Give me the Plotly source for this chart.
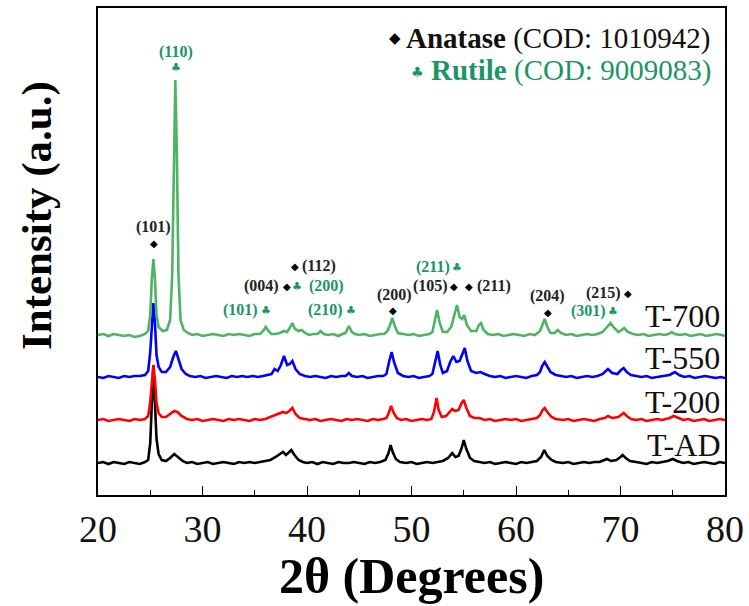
import plotly.graph_objects as go

# ---- data (2theta, relative intensity) ----
T_AD = [(20.0,0),(20.5,1),(21.0,-1),(21.5,1),(22.0,0),(22.5,-1),(23.0,1),(23.5,0),(24.0,-1),(24.5,1),(24.8,3),(25.0,20),(25.15,62),(25.3,98),(25.45,60),(25.6,24),(25.8,9),(26.1,3),(26.5,2),(26.9,5),(27.3,9),(27.7,5),(28.1,2),(28.5,0),(29.0,1),(29.5,-1),(30.0,0),(30.5,1),(31.0,-1),(31.5,0),(32.0,1),(32.5,0),(33.0,-1),(33.5,1),(34.0,0),(34.5,1),(35.0,0),(35.5,1),(36.0,2),(36.5,3),(37.0,6),(37.4,9),(37.7,11),(38.0,8),(38.3,11),(38.5,13),(38.8,8),(39.2,3),(39.6,1),(40.0,0),(40.5,1),(41.0,-1),(41.5,1),(42.0,0),(42.5,-1),(43.0,1),(43.5,0),(44.0,0),(44.5,1),(45.0,0),(45.5,-1),(46.0,1),(46.5,0),(47.0,1),(47.5,3),(47.8,10),(48.0,18),(48.2,11),(48.5,4),(48.9,1),(49.5,0),(50.0,1),(50.5,-1),(51.0,0),(51.5,1),(52.0,0),(52.5,1),(53.0,2),(53.5,5),(53.9,10),(54.2,6),(54.5,7),(54.8,15),(55.0,23),(55.25,14),(55.6,5),(56.0,2),(56.5,1),(57.0,0),(57.5,1),(58.0,-1),(58.5,0),(59.0,1),(59.5,0),(60.0,-1),(60.5,1),(61.0,0),(61.5,1),(62.0,2),(62.4,6),(62.7,13),(63.0,7),(63.4,3),(63.8,1),(64.5,0),(65.0,1),(65.5,-1),(66.0,0),(66.5,1),(67.0,0),(67.5,1),(68.0,1),(68.4,3),(68.7,4),(69.1,2),(69.6,3),(70.0,6),(70.2,8),(70.5,5),(70.9,2),(71.5,1),(72.0,0),(72.5,-1),(73.0,1),(73.5,0),(74.0,1),(74.5,2),(75.0,4),(75.4,2),(76.0,0),(76.5,1),(77.0,-1),(77.5,0),(78.0,1),(78.5,0),(79.0,-1),(79.5,1),(80.0,0)]

T_200 = [(20.0,0),(20.5,1),(21.0,-1),(21.5,0),(22.0,1),(22.5,0),(23.0,-1),(23.5,1),(24.0,0),(24.5,1),(24.8,4),(25.0,18),(25.15,42),(25.3,55),(25.45,40),(25.6,17),(25.8,7),(26.1,3),(26.5,3),(26.9,6),(27.3,9),(27.6,8),(28.0,4),(28.5,1),(29.0,0),(29.5,1),(30.0,-1),(30.5,0),(31.0,1),(31.5,0),(32.0,-1),(32.5,1),(33.0,0),(33.5,1),(34.0,0),(34.5,-1),(35.0,1),(35.5,0),(36.0,1),(36.5,3),(37.0,5),(37.4,7),(37.7,8),(38.0,7),(38.3,9),(38.6,12),(38.9,6),(39.3,2),(39.8,1),(40.3,0),(40.8,1),(41.3,-1),(41.8,0),(42.3,1),(42.8,0),(43.3,-1),(43.8,1),(44.3,0),(44.8,1),(45.3,0),(45.8,-1),(46.3,1),(46.8,0),(47.3,1),(47.6,2),(47.85,8),(48.05,14),(48.3,7),(48.6,2),(49.0,0),(49.5,1),(50.0,-1),(50.5,0),(51.0,1),(51.5,0),(51.9,1),(52.15,8),(52.4,22),(52.6,10),(52.9,3),(53.3,4),(53.7,9),(53.9,11),(54.2,9),(54.5,10),(54.8,17),(55.0,20),(55.25,12),(55.6,4),(56.0,2),(56.5,2),(57.0,0),(57.5,1),(58.0,-1),(58.5,0),(59.0,1),(59.5,0),(60.0,1),(60.5,-1),(61.0,0),(61.5,1),(62.0,2),(62.3,5),(62.55,10),(62.75,12),(63.0,8),(63.4,3),(63.8,1),(64.5,0),(65.0,1),(65.5,-1),(66.0,0),(66.5,1),(67.0,0),(67.5,-1),(68.0,1),(68.5,2),(68.8,4),(69.2,2),(69.8,3),(70.1,6),(70.3,7),(70.6,4),(71.0,1),(71.5,0),(72.0,1),(72.5,-1),(73.0,0),(73.5,1),(74.0,0),(74.7,2),(75.1,4),(75.5,2),(76.0,0),(76.5,1),(77.0,-1),(77.5,0),(78.0,1),(78.5,-1),(79.0,0),(79.5,1),(80.0,0)]

T_550 = [(20.0,0),(20.5,-1),(21.0,1),(21.5,0),(22.0,-1),(22.5,1),(23.0,0),(23.5,1),(24.0,1),(24.5,2),(24.8,6),(25.0,25),(25.15,57),(25.3,74),(25.45,54),(25.6,22),(25.8,10),(26.1,5),(26.5,5),(26.9,10),(27.2,20),(27.45,26),(27.7,18),(28.0,8),(28.4,3),(28.8,1),(29.3,0),(29.8,1),(30.3,-1),(30.8,0),(31.3,1),(31.8,0),(32.3,-1),(32.8,1),(33.3,0),(33.8,1),(34.3,0),(34.8,1),(35.3,0),(35.8,1),(36.3,2),(36.6,3),(36.9,8),(37.2,6),(37.5,12),(37.8,21),(38.1,12),(38.35,13),(38.6,16),(38.9,8),(39.3,3),(39.8,1),(40.3,0),(40.8,1),(41.3,0),(41.8,-1),(42.3,1),(42.8,0),(43.3,1),(43.7,1),(44.0,4),(44.3,1),(44.8,0),(45.3,1),(45.8,-1),(46.3,0),(46.8,1),(47.3,1),(47.6,3),(47.85,15),(48.1,25),(48.35,14),(48.7,4),(49.2,1),(49.7,0),(50.2,1),(50.7,-1),(51.2,0),(51.7,1),(52.0,3),(52.25,14),(52.5,26),(52.75,12),(53.0,4),(53.4,6),(53.7,15),(54.0,21),(54.3,15),(54.6,16),(54.9,25),(55.1,29),(55.35,16),(55.7,6),(56.2,4),(56.6,5),(57.0,3),(57.5,1),(58.0,0),(58.5,1),(59.0,-1),(59.5,0),(60.0,1),(60.5,0),(61.0,-1),(61.5,1),(62.0,2),(62.3,5),(62.5,11),(62.75,15),(63.0,11),(63.3,5),(63.8,2),(64.3,1),(64.8,0),(65.3,1),(65.8,-1),(66.3,0),(66.8,1),(67.3,0),(67.8,1),(68.3,3),(68.8,8),(69.2,4),(69.7,3),(70.05,7),(70.3,9),(70.6,5),(71.0,2),(71.5,1),(72.0,0),(72.5,1),(73.0,-1),(73.5,0),(74.0,1),(74.7,2),(75.2,5),(75.6,2),(76.1,0),(76.6,1),(77.1,-1),(77.6,0),(78.1,1),(78.6,0),(79.1,-1),(79.6,0),(80.0,-1)]

T_700 = [(20.0,0),(20.5,1),(21.0,-1),(21.5,1),(22.0,0),(22.5,-1),(23.0,0),(23.5,-2),(24.0,-1),(24.5,1),(24.8,4),(25.0,20),(25.15,56),(25.3,76),(25.45,56),(25.6,20),(25.8,8),(26.2,4),(26.6,5),(26.9,15),(27.1,60),(27.25,180),(27.4,255),(27.55,180),(27.7,60),(27.9,15),(28.2,5),(28.6,2),(29.0,0),(29.5,1),(30.0,-1),(30.5,0),(31.0,1),(31.5,0),(32.0,-1),(32.5,1),(33.0,0),(33.5,1),(34.0,0),(34.5,-1),(35.0,1),(35.5,1),(35.8,4),(36.05,8),(36.3,4),(36.6,1),(37.0,1),(37.4,2),(37.8,4),(38.1,3),(38.4,8),(38.6,12),(38.85,6),(39.2,4),(39.5,5),(39.8,2),(40.2,0),(40.6,1),(41.0,1),(41.3,4),(41.6,1),(42.0,0),(42.5,1),(43.0,-1),(43.4,1),(43.7,2),(44.0,9),(44.3,3),(44.6,1),(45.0,0),(45.5,1),(46.0,-1),(46.5,0),(47.0,1),(47.4,1),(47.7,4),(47.95,10),(48.15,17),(48.4,9),(48.7,2),(49.2,1),(49.7,0),(50.2,1),(50.7,-1),(51.2,0),(51.7,1),(52.0,3),(52.25,14),(52.45,25),(52.7,12),(53.0,3),(53.4,3),(53.8,8),(54.1,20),(54.35,30),(54.6,18),(54.85,16),(55.05,20),(55.3,10),(55.7,4),(56.2,4),(56.45,10),(56.65,12),(56.9,5),(57.3,1),(57.8,0),(58.3,1),(58.8,-1),(59.3,0),(59.8,1),(60.3,0),(60.8,-1),(61.3,1),(61.8,0),(62.3,4),(62.55,10),(62.75,16),(63.0,8),(63.3,2),(63.7,2),(64.0,5),(64.3,2),(64.8,0),(65.3,1),(65.8,-1),(66.3,0),(66.8,1),(67.3,0),(67.8,1),(68.3,3),(68.7,8),(69.05,12),(69.4,7),(69.8,3),(70.1,5),(70.35,7),(70.7,3),(71.2,1),(71.7,0),(72.2,1),(72.7,-1),(73.2,0),(73.7,1),(74.2,0),(74.6,1),(74.9,3),(75.2,1),(75.7,0),(76.2,1),(76.7,-1),(77.2,0),(77.7,1),(78.2,-1),(78.7,0),(79.2,1),(79.7,0),(80.0,-1)]

SAMPLES = ["T-AD", "T-200", "T-550", "T-700"]
PATTERNS = [T_AD, T_200, T_550, T_700]
OFFSETS = [32, 75, 118, 160]
COLORS = ["#000000", "#ff0000", "#0000ff", "#4cb462"]
SAMPLE_LABEL_Y = [50, 93, 137, 179]

X_TICKS = [20, 30, 40, 50, 60, 70, 80]

# peak labels: (text, 2theta, y)
ANATASE_LABELS = [("(101)", 25.33, 268), ("(004)", 35.63, 209), ("(112)", 41.19, 229),
                  ("(200)", 48.37, 200), ("(105)", 51.82, 209), ("(211)", 57.85, 209),
                  ("(204)", 63.03, 199), ("(215)", 68.34, 202)]
ANATASE_MARKS = [(25.33, 252), (38.07, 209), (38.84, 229), (48.23, 185), (54.07, 209),
                 (55.5, 209), (63.07, 183), (70.72, 202)]
RUTILE_LABELS = [("(110)", 27.44, 443), ("(101)", 33.62, 185), ("(200)", 41.86, 209),
                 ("(210)", 41.76, 185), ("(211)", 52.01, 228), ("(301)", 66.96, 184)]
RUTILE_MARKS = [(27.44, 428), (36.06, 185), (39.05, 209), (44.21, 185), (54.36, 228), (69.3, 184)]

GREEN_TXT = "#1c9468"
SERIF = "Liberation Serif"
SYM = "DejaVu Sans"

fig = go.Figure()
for name, pat, off, col in zip(SAMPLES, PATTERNS, OFFSETS, COLORS):
    xs = [p[0] for p in pat]
    ys = [p[1] + off for p in pat]
    fig.add_trace(go.Scatter(x=xs, y=ys, mode="lines", name=name,
                             line=dict(color=col, width=2.6), showlegend=False))

ann = []
for name, yy in zip(SAMPLES, SAMPLE_LABEL_Y):
    ann.append(dict(x=79.72, y=yy, xref="x", yref="y", text=name, showarrow=False,
                    xanchor="right", yanchor="middle",
                    font=dict(family=SERIF, size=32, color="#111111")))
for t, xx, yy in ANATASE_LABELS:
    ann.append(dict(x=xx, y=yy, xref="x", yref="y", text="<b>%s</b>" % t, showarrow=False,
                    xanchor="center", yanchor="middle",
                    font=dict(family=SERIF, size=16, color="#222222")))
for xx, yy in ANATASE_MARKS:
    ann.append(dict(x=xx, y=yy, xref="x", yref="y", text="◆", showarrow=False,
                    xanchor="center", yanchor="middle",
                    font=dict(family=SYM, size=10, color="#000000")))
for t, xx, yy in RUTILE_LABELS:
    ann.append(dict(x=xx, y=yy, xref="x", yref="y", text="<b>%s</b>" % t, showarrow=False,
                    xanchor="center", yanchor="middle",
                    font=dict(family=SERIF, size=16, color=GREEN_TXT)))
for xx, yy in RUTILE_MARKS:
    ann.append(dict(x=xx, y=yy, xref="x", yref="y", text="♣", showarrow=False,
                    xanchor="center", yanchor="middle",
                    font=dict(family=SYM, size=11, color=GREEN_TXT)))

# phase key (top right)
W, H, L, B = 627, 487, 98, 495
def px(x): return (x - L) / W
def py(y): return (B - y) / H

ann.append(dict(x=px(713), y=py(38), xref="paper", yref="paper", showarrow=False,
                xanchor="right", yanchor="middle",
                text="<b>Anatase</b> (COD: 1010942)",
                font=dict(family=SERIF, size=29, color="#111111")))
ann.append(dict(x=px(395), y=py(38), xref="paper", yref="paper", showarrow=False,
                xanchor="center", yanchor="middle", text="◆",
                font=dict(family=SYM, size=15, color="#000000")))
ann.append(dict(x=px(713), y=py(70), xref="paper", yref="paper", showarrow=False,
                xanchor="right", yanchor="middle",
                text="<b>Rutile</b> (COD: 9009083)",
                font=dict(family=SERIF, size=29, color=GREEN_TXT)))
ann.append(dict(x=px(417), y=py(72), xref="paper", yref="paper", showarrow=False,
                xanchor="center", yanchor="middle", text="♣",
                font=dict(family=SYM, size=14, color=GREEN_TXT)))

# axis titles
ann.append(dict(x=px(37), y=py(216), xref="paper", yref="paper", showarrow=False,
                xanchor="center", yanchor="middle", textangle=-90,
                text="<b>Intensity (a.u.)</b>",
                font=dict(family=SERIF, size=43, color="#000000")))
ann.append(dict(x=px(411), y=py(576), xref="paper", yref="paper", showarrow=False,
                xanchor="center", yanchor="middle",
                text="<b>2θ (Degrees)</b>",
                font=dict(family=SERIF, size=50, color="#000000")))

fig.update_layout(
    width=749, height=606,
    margin=dict(l=98, r=24, t=8, b=111, autoexpand=False),
    paper_bgcolor="white", plot_bgcolor="white",
    annotations=ann,
    xaxis=dict(range=[20, 80], tickvals=X_TICKS, ticktext=[str(v) for v in X_TICKS],
               ticks="inside", ticklen=9, tickwidth=1.3, tickcolor="black",
               minor=dict(ticks="inside", ticklen=5, dtick=5, tick0=20, tickcolor="black", tickwidth=1.3),
               showline=True, linecolor="black", linewidth=1.5, mirror=True,
               showgrid=False, zeroline=False, automargin=False,
               tickfont=dict(family=SERIF, size=38, color="#111111")),
    yaxis=dict(range=[0, 487], showticklabels=False, ticks="",
               showline=True, linecolor="black", linewidth=1.5, mirror=True,
               showgrid=False, zeroline=False, automargin=False),
)

fig.write_html("out.html", config={"displayModeBar": False},
               post_script="document.body.style.margin='0px';document.body.style.overflow='hidden';")
